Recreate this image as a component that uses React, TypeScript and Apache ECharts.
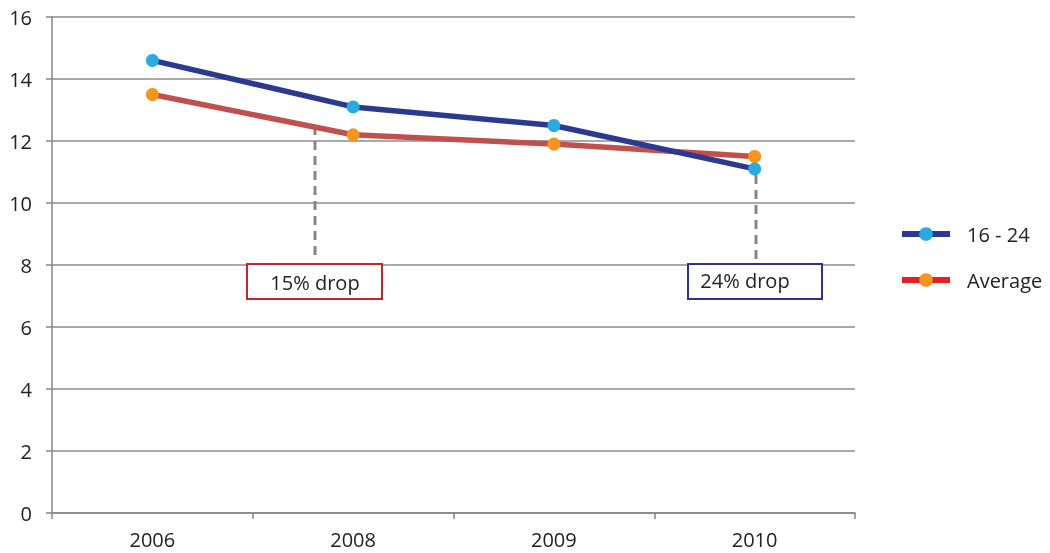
import React, { useEffect, useRef } from "react";
import * as echarts from "echarts";

const categories = ["2006", "2008", "2009", "2010"];
const youth = [14.6, 13.1, 12.5, 11.1];
const average = [13.5, 12.2, 11.9, 11.5];
const annotations = ["15% drop", "24% drop"];

const FONT = "'Open Sans', 'Noto Sans', sans-serif";

export default function App() {
  const ref = useRef<HTMLDivElement>(null);
  useEffect(() => {
    if (!ref.current) return;
    const chart = echarts.init(ref.current, null, { renderer: "svg" });
    chart.setOption({
      animation: false,
      textStyle: { fontFamily: FONT },
      grid: { left: 52, right: 195, top: 17, bottom: 40, containLabel: false },
      legend: {
        orient: "vertical",
        left: 894,
        top: 219,
        itemWidth: 48,
        itemHeight: 17,
        itemGap: 26,
        textStyle: { fontSize: 20, color: "#222", fontFamily: FONT, padding: [0, 0, 0, 12] },
        data: [
          { name: "16 - 24", lineStyle: { color: "#2b3990", width: 6 } },
          { name: "Average", lineStyle: { color: "#ed1c24", width: 6 } },
        ],
      },
      xAxis: {
        type: "category",
        data: categories,
        boundaryGap: true,
        axisLine: { lineStyle: { color: "#868686", width: 1.5 } },
        axisTick: { show: true, length: 6, alignWithLabel: false, lineStyle: { color: "#868686", width: 1.5 } },
        axisLabel: { fontSize: 20, color: "#222", margin: 16, fontFamily: FONT },
      },
      yAxis: {
        type: "value",
        min: 0,
        max: 16,
        interval: 2,
        axisLine: { show: true, lineStyle: { color: "#868686", width: 1.5 } },
        axisTick: { show: true, length: 6, lineStyle: { color: "#868686", width: 1.5 } },
        axisLabel: { fontSize: 20, color: "#222", margin: 20, fontFamily: FONT },
        splitLine: { lineStyle: { color: "#8c8c8c", width: 1.5 } },
      },
      series: [
        {
          name: "16 - 24",
          type: "line",
          data: youth,
          symbol: "circle",
          symbolSize: 13,
          lineStyle: { color: "#2b3990", width: 5.5 },
          itemStyle: { color: "#29abe2" },
          z: 3,
        },
        {
          name: "Average",
          type: "line",
          data: average,
          symbol: "circle",
          symbolSize: 13,
          lineStyle: { color: "#c0504d", width: 5.5 },
          itemStyle: { color: "#f7941d" },
          z: 2,
        },
      ],
      graphic: [
        {
          type: "line",
          shape: { x1: 315, y1: 126, x2: 315, y2: 260 },
          style: { stroke: "#868686", lineWidth: 3, lineDash: [9, 6] },
          z: 1,
        },
        {
          type: "line",
          shape: { x1: 756, y1: 175, x2: 756, y2: 262 },
          style: { stroke: "#868686", lineWidth: 3, lineDash: [9, 6] },
          z: 1,
        },
        {
          type: "rect",
          shape: { x: 247, y: 264, width: 135, height: 35 },
          style: { fill: "#fff", stroke: "#c1272d", lineWidth: 2 },
          z: 5,
        },
        {
          type: "text",
          x: 315,
          y: 282,
          style: {
            text: annotations[0],
            fontSize: 20,
            fill: "#222",
            fontFamily: FONT,
            align: "center",
            verticalAlign: "middle",
          },
          z: 6,
        },
        {
          type: "rect",
          shape: { x: 688, y: 264, width: 134, height: 35 },
          style: { fill: "#fff", stroke: "#2e3192", lineWidth: 2 },
          z: 5,
        },
        {
          type: "text",
          x: 745,
          y: 280,
          style: {
            text: annotations[1],
            fontSize: 20,
            fill: "#222",
            fontFamily: FONT,
            align: "center",
            verticalAlign: "middle",
          },
          z: 6,
        },
      ],
    });
    return () => chart.dispose();
  }, []);
  return (
    <div
      ref={ref}
      style={{ position: "fixed", left: 0, top: 0, width: 1050, height: 553 }}
    />
  );
}
